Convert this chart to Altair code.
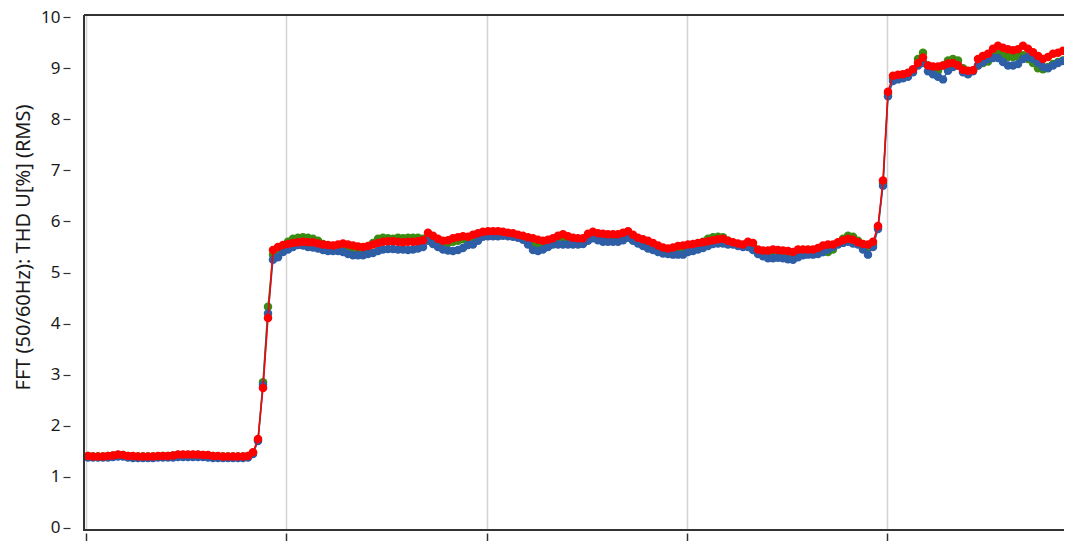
import altair as alt
import pandas as pd

# ---- data (one sample every ~5 px) ----
RED_LOW = [1.41, 1.40, 1.40, 1.40, 1.41, 1.42, 1.44, 1.43, 1.41, 1.41,
           1.40, 1.40, 1.40, 1.40, 1.41, 1.41, 1.41, 1.42, 1.44, 1.44,
           1.44, 1.44, 1.44, 1.43, 1.43, 1.41, 1.41, 1.40, 1.40, 1.40,
           1.40, 1.40, 1.41]
RED_RISE1 = [1.48, 1.74, 2.74, 4.11, 5.44]
RED_MID = [5.50, 5.54, 5.56, 5.58, 5.59, 5.60, 5.59, 5.59, 5.57, 5.55,
           5.54, 5.53, 5.55, 5.57, 5.55, 5.53, 5.51, 5.50, 5.52, 5.55,
           5.58, 5.60, 5.61, 5.61, 5.60, 5.59, 5.60, 5.60, 5.61, 5.63,
           5.78, 5.72, 5.66, 5.62, 5.63, 5.67, 5.69, 5.71, 5.70, 5.74,
           5.77, 5.80, 5.81, 5.81, 5.81, 5.80, 5.78, 5.77, 5.74, 5.72,
           5.69, 5.67, 5.64, 5.62, 5.64, 5.67, 5.72, 5.75, 5.71, 5.68,
           5.67, 5.67, 5.76, 5.80, 5.77, 5.76, 5.75, 5.75, 5.75, 5.78,
           5.81, 5.74, 5.68, 5.65, 5.62, 5.58, 5.53, 5.49, 5.47, 5.49,
           5.52, 5.53, 5.55, 5.56, 5.58, 5.59, 5.61, 5.63, 5.65, 5.66,
           5.62, 5.59, 5.57, 5.55, 5.60, 5.58, 5.45, 5.43, 5.43, 5.45,
           5.44, 5.43, 5.42, 5.40, 5.45, 5.45, 5.45, 5.45, 5.48, 5.53,
           5.55, 5.55, 5.59, 5.63, 5.66, 5.64, 5.59, 5.56, 5.55, 5.60]
RED_RISE2 = [5.91, 6.80, 8.54]
RED_HIGH = [8.85, 8.87, 8.88, 8.91, 8.98, 9.10, 9.21, 9.05, 9.03, 9.03,
            9.05, 9.09, 9.10, 9.05, 8.97, 8.95, 8.96, 9.18, 9.24, 9.28,
            9.38, 9.44, 9.40, 9.37, 9.35, 9.37, 9.44, 9.38, 9.31, 9.24,
            9.18, 9.22, 9.28, 9.30, 9.34, 9.28, 9.25]

BLUE_LOW = [1.38, 1.38, 1.38, 1.38, 1.38, 1.39, 1.40, 1.40, 1.38, 1.37,
            1.37, 1.37, 1.37, 1.37, 1.38, 1.38, 1.38, 1.38, 1.39, 1.39,
            1.39, 1.39, 1.39, 1.39, 1.38, 1.37, 1.37, 1.37, 1.37, 1.37,
            1.37, 1.37, 1.38]
BLUE_RISE1 = [1.45, 1.70, 2.80, 4.20, 5.25]
BLUE_MID = [5.30, 5.40, 5.45, 5.50, 5.54, 5.53, 5.50, 5.49, 5.47, 5.44,
            5.42, 5.42, 5.42, 5.40, 5.36, 5.34, 5.34, 5.34, 5.36, 5.38,
            5.42, 5.45, 5.46, 5.46, 5.45, 5.45, 5.44, 5.45, 5.47, 5.50,
            5.62, 5.56, 5.50, 5.45, 5.43, 5.42, 5.44, 5.48, 5.54, 5.55,
            5.62, 5.70, 5.71, 5.71, 5.71, 5.72, 5.71, 5.70, 5.68, 5.64,
            5.55, 5.44, 5.42, 5.45, 5.50, 5.55, 5.55, 5.55, 5.55, 5.55,
            5.55, 5.56, 5.62, 5.67, 5.63, 5.60, 5.60, 5.60, 5.60, 5.63,
            5.68, 5.62, 5.57, 5.52, 5.47, 5.44, 5.40, 5.37, 5.36, 5.35,
            5.35, 5.35, 5.40, 5.42, 5.45, 5.48, 5.52, 5.56, 5.57, 5.57,
            5.55, 5.55, 5.52, 5.50, 5.50, 5.44, 5.36, 5.32, 5.28, 5.28,
            5.29, 5.28, 5.26, 5.25, 5.30, 5.34, 5.35, 5.35, 5.36, 5.40,
            5.45, 5.50, 5.55, 5.58, 5.60, 5.57, 5.55, 5.45, 5.35, 5.50]
BLUE_RISE2 = [5.85, 6.70, 8.45]
BLUE_HIGH = [8.75, 8.78, 8.80, 8.83, 8.92, 9.05, 9.10, 8.94, 8.88, 8.83,
             8.78, 8.95, 9.02, 9.05, 8.92, 8.88, 8.94, 9.05, 9.12, 9.18,
             9.20, 9.20, 9.12, 9.05, 9.05, 9.08, 9.18, 9.22, 9.18, 9.10,
             9.02, 9.00, 9.05, 9.10, 9.14, 9.15, 9.12]

GREEN_LOW = [1.41, 1.40, 1.40, 1.40, 1.41, 1.42, 1.43, 1.43, 1.41, 1.40,
             1.40, 1.40, 1.40, 1.40, 1.40, 1.41, 1.41, 1.42, 1.43, 1.43,
             1.43, 1.43, 1.43, 1.43, 1.42, 1.41, 1.40, 1.40, 1.40, 1.40,
             1.40, 1.40, 1.41]
GREEN_RISE1 = [1.47, 1.72, 2.85, 4.33, 5.35]
GREEN_MID = [5.40, 5.52, 5.60, 5.66, 5.68, 5.69, 5.68, 5.66, 5.62, 5.56,
             5.53, 5.52, 5.52, 5.50, 5.48, 5.46, 5.45, 5.45, 5.48, 5.58,
             5.66, 5.68, 5.67, 5.66, 5.68, 5.67, 5.68, 5.68, 5.68, 5.66,
             5.70, 5.65, 5.60, 5.58, 5.58, 5.60, 5.62, 5.65, 5.66, 5.70,
             5.73, 5.74, 5.74, 5.73, 5.73, 5.74, 5.73, 5.72, 5.70, 5.67,
             5.62, 5.52, 5.50, 5.55, 5.58, 5.62, 5.65, 5.66, 5.64, 5.62,
             5.62, 5.63, 5.70, 5.74, 5.71, 5.70, 5.70, 5.69, 5.69, 5.72,
             5.75, 5.68, 5.62, 5.58, 5.55, 5.50, 5.47, 5.44, 5.43, 5.44,
             5.46, 5.48, 5.50, 5.52, 5.55, 5.60, 5.66, 5.69, 5.70, 5.69,
             5.62, 5.57, 5.55, 5.54, 5.56, 5.52, 5.42, 5.40, 5.40, 5.42,
             5.41, 5.40, 5.38, 5.37, 5.40, 5.42, 5.42, 5.42, 5.42, 5.40,
             5.40, 5.45, 5.56, 5.66, 5.72, 5.70, 5.62, 5.55, 5.50, 5.55]
GREEN_RISE2 = [5.88, 6.75, 8.50]
GREEN_HIGH = [8.80, 8.83, 8.85, 8.88, 8.96, 9.18, 9.30, 9.05, 8.98, 8.95,
              9.05, 9.15, 9.18, 9.15, 9.00, 8.93, 8.95, 9.05, 9.10, 9.13,
              9.22, 9.28, 9.25, 9.22, 9.22, 9.24, 9.25, 9.18, 9.10, 9.00,
              8.98, 9.02, 9.08, 9.12, 9.15, 9.10, 9.05]

SERIES = ["L1", "L2", "L3"]
COLORS = ["#2E5EA6", "#3A8C12", "#FF0000"]
Y_TICKS = [0, 1, 2, 3, 4, 5, 6, 7, 8, 9, 10]
X_TICKS = [-0.4, 39.6, 79.8, 119.8, 159.8]
Y_TITLE = "FFT (50/60Hz): THD U[%] (RMS)"

blue = BLUE_LOW + BLUE_RISE1 + BLUE_MID + BLUE_RISE2 + BLUE_HIGH
green = GREEN_LOW + GREEN_RISE1 + GREEN_MID + GREEN_RISE2 + GREEN_HIGH
red = RED_LOW + RED_RISE1 + RED_MID + RED_RISE2 + RED_HIGH

rows = []
for name, vals in zip(SERIES, [blue, green, red]):
    for i, v in enumerate(vals):
        rows.append({"x": i, "v": v, "series": name})
df = pd.DataFrame(rows)

W, H = 980, 514
FONT = "Noto Sans"

xscale = alt.Scale(domain=[-0.8, 195.2], nice=False, zero=False)
yscale = alt.Scale(domain=[-0.02, 10.04], nice=False, zero=False)
cscale = alt.Scale(domain=SERIES, range=COLORS)

xaxis = alt.Axis(values=X_TICKS, labels=False, title=None, domain=False,
                 ticks=True, tickSize=9, tickColor="#333333", tickWidth=1.5,
                 offset=4, grid=True, gridColor="#D4D4D4", gridWidth=1.5)
yaxis = alt.Axis(values=Y_TICKS, grid=False, domain=False, offset=14,
                 tickSize=7, tickColor="#333333", tickWidth=1.2,
                 labelPadding=3, labelFontSize=17, labelColor="#1a1a1a",
                 labelFont=FONT, title=Y_TITLE, titleFont=FONT,
                 titleFontSize=20, titleFontWeight="normal",
                 titleColor="#1a1a1a", titleX=-47, titleY=232,
                 titleAngle=270, titleAlign="center", titleBaseline="middle")

layers = []
for name in ["L2", "L1", "L3"]:
    sub = alt.Chart(df).transform_filter(alt.datum.series == name)
    enc = dict(
        x=alt.X("x:Q", scale=xscale, axis=xaxis),
        y=alt.Y("v:Q", scale=yscale, axis=yaxis),
        color=alt.Color("series:N", scale=cscale, legend=None),
    )
    layers.append(sub.mark_line(strokeWidth=1.5, clip=True).encode(**enc))
    layers.append(sub.mark_circle(size=72, opacity=1, clip=True).encode(**enc))

frame_left = alt.Chart(df).mark_rule(color="#333333", strokeWidth=1.8).encode(
    x=alt.value(0), y=alt.value(0), y2=alt.value(H + 2))
frame_top = alt.Chart(df).mark_rule(color="#333333", strokeWidth=1).encode(
    x=alt.value(0), x2=alt.value(W), y=alt.value(0))
frame_bottom = alt.Chart(df).mark_rule(color="#333333", strokeWidth=1.8).encode(
    x=alt.value(0), x2=alt.value(W), y=alt.value(H + 1))

chart = alt.layer(*layers, frame_left, frame_top, frame_bottom).properties(
    width=W, height=H,
    autosize=alt.AutoSizeParams(type="none"),
    padding={"left": 76, "top": 7, "right": 0, "bottom": 12},
    background="white",
).configure_view(stroke=None)

chart.save("out.html", embed_options={"renderer": "svg", "actions": False})
